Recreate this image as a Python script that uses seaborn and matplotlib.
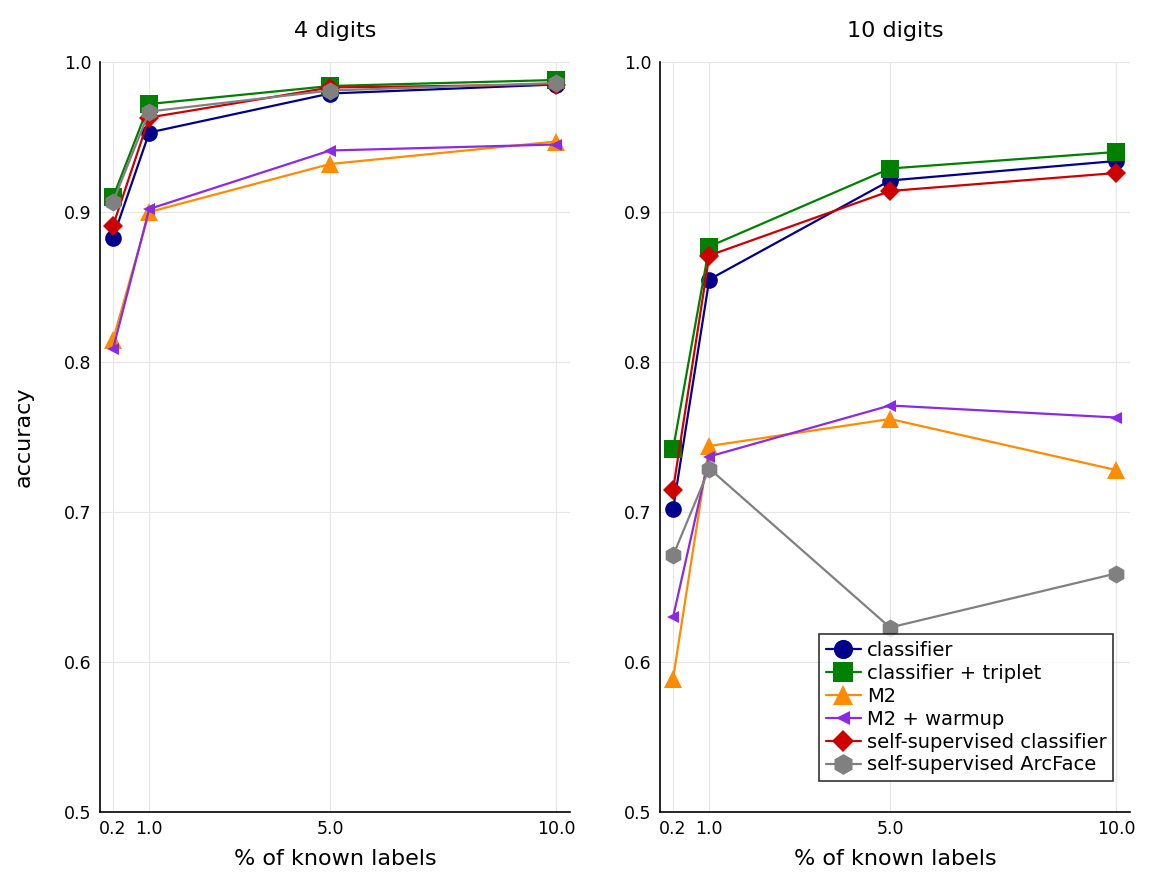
import matplotlib
matplotlib.use("Agg")
import matplotlib.pyplot as plt
import seaborn as sns
import pandas as pd

x_vals = [0.2, 1.0, 5.0, 10.0]
x_ticklabels = ["0.2", "1.0", "5.0", "10.0"]
series_names = ["classifier", "classifier + triplet", "M2", "M2 + warmup",
                "self-supervised classifier", "self-supervised ArcFace"]
panel_titles = ["4 digits", "10 digits"]

acc_4 = {
    "classifier": [0.883, 0.953, 0.979, 0.985],
    "classifier + triplet": [0.910, 0.972, 0.984, 0.988],
    "M2": [0.815, 0.900, 0.932, 0.947],
    "M2 + warmup": [0.809, 0.902, 0.941, 0.945],
    "self-supervised classifier": [0.891, 0.963, 0.983, 0.985],
    "self-supervised ArcFace": [0.907, 0.967, 0.981, 0.986],
}
acc_10 = {
    "classifier": [0.702, 0.855, 0.921, 0.934],
    "classifier + triplet": [0.742, 0.877, 0.929, 0.940],
    "M2": [0.589, 0.744, 0.762, 0.728],
    "M2 + warmup": [0.630, 0.737, 0.771, 0.763],
    "self-supervised classifier": [0.715, 0.871, 0.914, 0.926],
    "self-supervised ArcFace": [0.671, 0.729, 0.623, 0.659],
}

colors = ["#00008B", "#008000", "#FF8C00", "#8A2BE2", "#CD0000", "#808080"]
markers = ["o", "s", "^", "<", "D", "h"]
msizes = [12, 13, 13, 8.5, 10, 13]

sns.set_style("white")
plt.rcParams["font.family"] = ["DejaVu Sans"]
plt.rcParams["text.color"] = "black"
plt.rcParams["axes.labelcolor"] = "black"
plt.rcParams["xtick.color"] = "black"
plt.rcParams["ytick.color"] = "black"

fig = plt.figure(figsize=(11.49, 8.84), dpi=100)
ax1 = fig.add_axes([100/1149, 1-812/884, 470/1149, 750/884])
ax2 = fig.add_axes([660/1149, 1-812/884, 470/1149, 750/884])

for ax, data, title in [(ax1, acc_4, panel_titles[0]), (ax2, acc_10, panel_titles[1])]:
    for name, c, m, ms in zip(series_names, colors, markers, msizes):
        df = pd.DataFrame({"x": x_vals, "y": data[name]})
        sns.lineplot(data=df, x="x", y="y", ax=ax, color=c, marker=m,
                     markersize=ms, markeredgewidth=0, linewidth=1.6,
                     label=name, legend=False)
    ax.set_xlim(-0.09, 10.31)
    ax.set_ylim(0.5, 1.0)
    ax.set_xticks(x_vals)
    ax.set_xticklabels(x_ticklabels, fontsize=12.5)
    ax.set_yticks([0.5, 0.6, 0.7, 0.8, 0.9, 1.0])
    ax.set_yticklabels(["0.5", "0.6", "0.7", "0.8", "0.9", "1.0"], fontsize=12.5)
    ax.grid(True, color="#e6e6e6", linewidth=0.8)
    for s in ["top", "right"]:
        ax.spines[s].set_visible(False)
    for s in ["left", "bottom"]:
        ax.spines[s].set_color("black")
        ax.spines[s].set_linewidth(1.2)
    ax.tick_params(axis="both", direction="in", length=5, width=1, color="black", pad=6)
    ax.set_title(title, fontsize=16, pad=18, color="black")
    ax.set_xlabel("% of known labels", fontsize=16, labelpad=8)
    ax.set_ylabel("")

ax1.set_ylabel("accuracy", fontsize=16, labelpad=22)

handles, labels = ax2.get_legend_handles_labels()
leg = ax2.legend(handles, labels, loc="lower right", fontsize=14, frameon=True,
                 fancybox=False, edgecolor="black", handlelength=1.8,
                 handletextpad=0.3, borderpad=0.35, labelspacing=0.2,
                 markerscale=1.15, bbox_to_anchor=(0.985, 0.028))
leg.get_frame().set_linewidth(1.2)

fig.savefig("out.png", dpi=100)
